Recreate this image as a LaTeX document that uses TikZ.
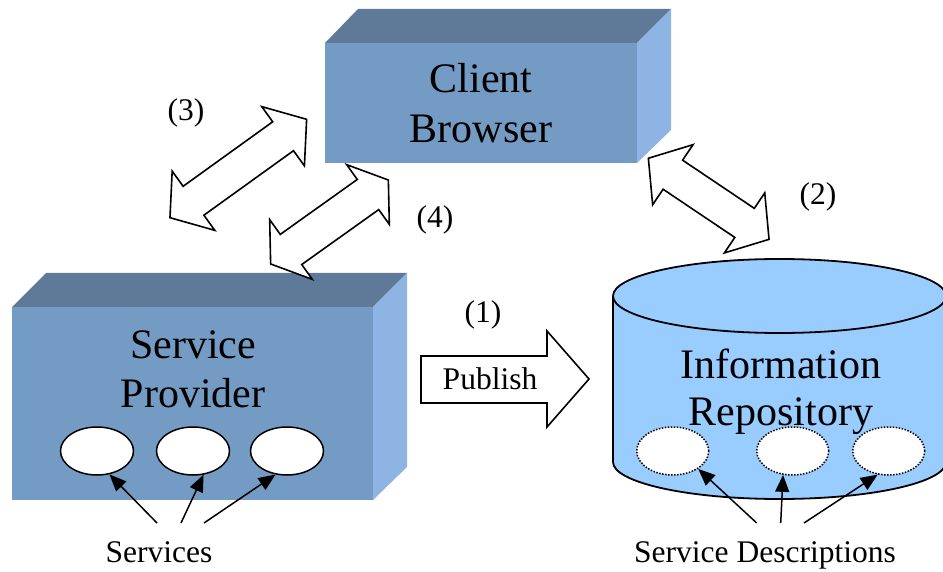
\documentclass[tikz,border=0pt]{standalone}
\usepackage{fontspec}
\setmainfont{Liberation Serif}
\usetikzlibrary{arrows.meta,shapes.geometric}
\definecolor{boxtop}{RGB}{94,122,152}
\definecolor{boxfront}{RGB}{116,155,196}
\definecolor{boxright}{RGB}{141,180,226}
\definecolor{cylfill}{RGB}{153,204,255}
\tikzset{
  blockarrow/.style={draw=black,fill=white,line width=1.6pt,line join=miter},
  bigtext/.style={font=\fontsize{42}{49}\selectfont,align=center,anchor=base,inner sep=0pt},
  smalltext/.style={font=\fontsize{31.5}{36}\selectfont,anchor=base,inner sep=0pt},
  service/.style={ellipse,draw=black,fill=white,line width=1.5pt,minimum width=73pt,minimum height=48pt,inner sep=0pt},
  servdesc/.style={ellipse,draw=black,fill=white,line width=1.5pt,dash pattern=on 1.5pt off 1.5pt,minimum width=72pt,minimum height=48pt,inner sep=0pt},
  pointer/.style={line width=1.5pt,-{Triangle[length=17pt,width=14pt]}}
}
\newcommand{\blockdarrow}[7]{%
  \begin{scope}[shift={(#1,#2)},rotate=#3]
    \draw[blockarrow] (#4,0) -- ({#4-#7},#6) -- ({#4-#7},#5) -- ({-#4+#7},#5) -- ({-#4+#7},#6) -- (-#4,0)
      -- ({-#4+#7},-#6) -- ({-#4+#7},-#5) -- ({#4-#7},-#5) -- ({#4-#7},-#6) -- cycle;
  \end{scope}}
\begin{document}
\begin{tikzpicture}[x=1pt,y=-1pt]
\useasboundingbox (0,0) rectangle (943,572);
% ---------- Client Browser box
\fill[boxtop] (325,43) -- (358,9) -- (671,9) -- (637,43) -- cycle;
\fill[boxright] (637,43) -- (671,9) -- (671,130) -- (637,163) -- cycle;
\node[fill=boxfront,minimum width=312pt,minimum height=120pt,inner sep=0pt] (cb) at (481,103) {};
\node[bigtext,font=\fontsize{42}{50}\selectfont] (cbtext) at (481,143) {Client\\Browser};
% ---------- Service Provider box
\fill[boxtop] (12,307) -- (46,273) -- (407,273) -- (373,307) -- cycle;
\fill[boxright] (373,307) -- (407,273) -- (407,467) -- (373,500) -- cycle;
\node[fill=boxfront,minimum width=361pt,minimum height=193pt,inner sep=0pt] (sp) at (192.5,403.5) {};
\node[bigtext] (sptext) at (193,407) {Service\\Provider};
\node[service] (e1) at (97,451) {};
\node[service] (e2) at (193,451) {};
\node[service] (e3) at (287,451) {};
% ---------- Information Repository cylinder
\fill[cylfill,draw=black,line width=1.8pt] (779.5,462) ellipse [x radius=166.5,y radius=37];
\fill[cylfill] (613,296) rectangle (946,462);
\draw[line width=1.8pt] (613,296) -- (613,462);
\draw[line width=1.8pt] (946,296) -- (946,462);
\fill[cylfill,draw=black,line width=1.8pt] (779.5,296) ellipse [x radius=166.5,y radius=37];
\node[bigtext,font=\fontsize{42}{47}\selectfont] (irtext) at (781,425) {Information\\Repository};
\node[servdesc] (d1) at (672.7,451) {};
\node[servdesc] (d2) at (792.7,451) {};
\node[servdesc] (d3) at (888.7,451) {};
% ---------- Publish arrow
\draw[blockarrow] (421,356) -- (547,356) -- (547,331) -- (589,379) -- (547,427) -- (547,403) -- (421,403) -- cycle;
\node[smalltext] (pub) at (490,389) {Publish};
\node[smalltext] (l1) at (483,322.5) {(1)};
% ---------- double arrows
\blockdarrow{238.3}{168.5}{35.75}{84.2}{17.8}{36.5}{29}
\blockdarrow{329.5}{222}{35.5}{72.3}{18.5}{36.7}{25}
\blockdarrow{708.7}{198.8}{-33.9}{72.7}{17.5}{36.2}{29.5}
\node[smalltext] (l2) at (818,204.5) {(2)};
\node[smalltext] (l3) at (186,121) {(3)};
\node[smalltext] (l4) at (435,227.5) {(4)};
% ---------- labels and pointers
\node[smalltext] (svc) at (159,562) {Services};
\node[smalltext] (sdesc) at (765,562) {Service Descriptions};
\coordinate (s1) at (157,523);
\coordinate (s2) at (181,523);
\coordinate (s3) at (204,523);
\coordinate (t1) at (756.7,523);
\coordinate (t2) at (780.7,523);
\coordinate (t3) at (804,523);
\draw[pointer] (s1) -- (e1.-62);
\draw[pointer] (s2) -- (e2.-66);
\draw[pointer] (s3) -- (e3.-116);
\draw[pointer] (t1) -- (d1.-35);
\draw[pointer] (t2) -- (d2.-112);
\draw[pointer] (t3) -- (d3.-115);
\end{tikzpicture}
\end{document}
